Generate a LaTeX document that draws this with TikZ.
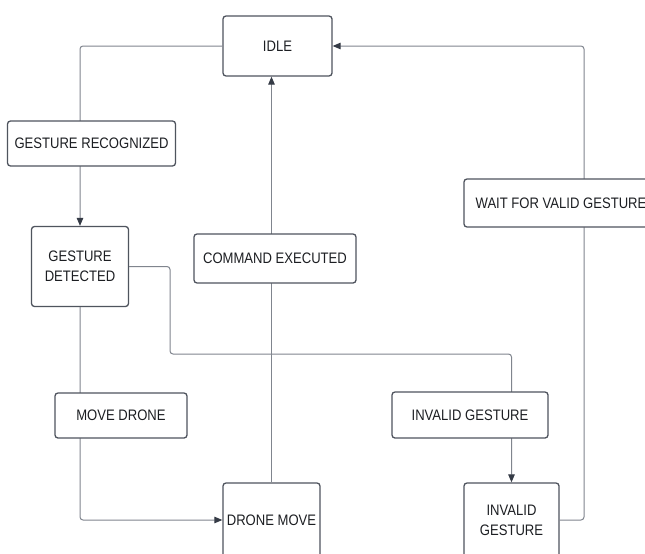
\documentclass[tikz,border=0pt]{standalone}
\usepackage{fontspec}
\setmainfont{Liberation Sans}[FakeStretch=0.86]
\usetikzlibrary{arrows.meta}
\definecolor{boxline}{HTML}{4F545E}
\definecolor{wire}{HTML}{80858E}
\definecolor{tipcol}{HTML}{353B46}
\definecolor{ink}{HTML}{1C1E22}
\tikzset{
  state/.style={draw=boxline, line width=1.3pt, rounded corners=3pt, fill=white,
    align=center, inner sep=2pt, text=ink, font=\fontsize{15.2}{20}\selectfont},
  lbl/.style={state},
  wirepath/.style={draw=wire, line width=1pt, rounded corners=3pt},
  tip/.style={-{Triangle[length=8pt,width=6.5pt,fill=tipcol,color=tipcol]}}
}
\begin{document}
\begin{tikzpicture}[x=1pt,y=-1pt]
\useasboundingbox (0,0) rectangle (645,554);
\fill[white] (0,0) rectangle (645,554);

% states
\node[state, minimum width=109pt, minimum height=60pt] (idle) at (277.5,46) {IDLE};
\node[state, minimum width=97pt, minimum height=80pt] (det) at (80,266.5) {GESTURE\\DETECTED};
\node[state, minimum width=97pt, minimum height=74pt] (move) at (271.5,520) {DRONE MOVE};
\node[state, minimum width=95pt, minimum height=74pt] (inv) at (511.5,520) {INVALID\\GESTURE};

% transitions
\draw[wirepath, tip] (idle.west) -| (det.north);
\draw[wirepath, tip] (det.east) -| (170,354) -| (inv.north);
\draw[wirepath, tip] (det.south) |- (move.west);
\draw[wirepath, tip] (move.north) -- (move.north |- idle.south);
\draw[wirepath, tip] (inv.east) -- (584,520) |- (idle.east);

% transition labels
\node[lbl, minimum width=168pt, minimum height=45pt] (recog) at (91.5,143.5) {GESTURE RECOGNIZED};
\node[lbl, minimum width=162pt, minimum height=49pt] (exec) at (275,258.5) {COMMAND EXECUTED};
\node[lbl, minimum width=132pt, minimum height=45pt] (mvd) at (121,415.5) {MOVE DRONE};
\node[lbl, minimum width=156pt, minimum height=46pt] (invl) at (470,415) {INVALID GESTURE};
\node[lbl, minimum width=194pt, minimum height=48pt] (wait) at (561,203) {WAIT FOR VALID GESTURE};
\end{tikzpicture}
\end{document}
